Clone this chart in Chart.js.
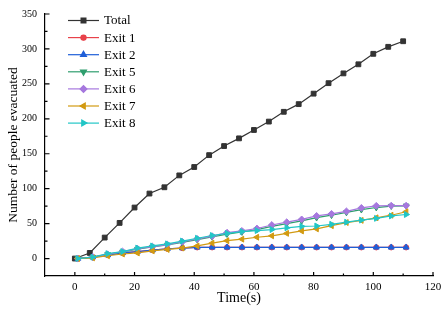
<!DOCTYPE html>
<html>
<head>
<meta charset="utf-8">
<script src="https://cdn.jsdelivr.net/npm/chart.js@4/dist/chart.umd.js"></script>
<style>
  html, body { margin: 0; padding: 0; background: #fff; }
  canvas { display: block; }
</style>
</head>
<body>
<canvas id="evacChart" width="447" height="315"></canvas>
<script>
// time stamps (s)
var totalTimes = [0, 5, 10, 15, 20, 25, 30, 35, 40, 45, 50, 55, 60, 65, 70, 75, 80, 85, 90, 95, 100, 105, 110];
var exitTimes = [1, 6, 11, 16, 21, 26, 31, 36, 41, 46, 51, 56, 61, 66, 71, 76, 81, 86, 91, 96, 101, 106, 111];

// number of people evacuated
var total = [0, 8, 30, 51, 73, 93, 102, 119, 131, 148, 161, 172, 184, 196, 210, 221, 236, 251, 265, 278, 293, 303, 311];
var exit1 = [0, 2, 5, 8, 10, 12, 14, 15, 16, 16, 16, 16, 16, 16, 16, 16, 16, 16, 16, 16, 16, 16, 16];
var exit2 = [0, 2, 5, 8, 10, 12, 14, 15, 16, 16, 16, 16, 16, 16, 16, 16, 16, 16, 16, 16, 16, 16, 16];
var exit5 = [0, 2, 6, 9.5, 13.5, 16.5, 19.5, 23, 27, 31, 35, 38, 41.5, 46, 50, 54, 58.5, 62, 66, 70, 73, 75, 75.5];
var exit6 = [0, 2, 6, 10, 14, 17, 20, 24, 28, 32, 37, 39.5, 43, 48, 52, 56, 61, 64, 67.5, 72.5, 75.5, 75.7, 75.7];
var exit7 = [0, 1, 4, 6.5, 8, 11, 13, 15, 18, 22, 25.5, 27.7, 30.5, 32.5, 36, 39.5, 42.5, 47, 51.5, 54.6, 58.3, 62, 67];
var exit8 = [0, 2, 7, 10, 15, 18, 21, 25, 29, 33, 36, 38.6, 40, 41.5, 44, 46, 46.6, 49, 52, 55, 57.5, 61, 63];

var xTicks = [0, 20, 40, 60, 80, 100, 120];
var yTicks = [0, 50, 100, 150, 200, 250, 300, 350];
var xMinor = [10, 30, 50, 70, 90, 110];
var yMinor = [25, 75, 125, 175, 225, 275, 325];

var serif = '"Liberation Serif", "Times New Roman", serif';

function pts(xs, ys) {
    return ys.map(function (v, i) { return { x: xs[i], y: v }; });
}

function series(label, xs, ys, color, style, rot, order) {
    return {
        label: label,
        data: pts(xs, ys),
        borderColor: color,
        backgroundColor: color,
        borderWidth: 1.2,
        pointStyle: style,
        pointRotation: rot,
        pointRadius: style === 'circle' ? 2.6 : 3.4,
        pointBorderWidth: 1,
        tension: 0,
        order: order
    };
}

// inward major/minor ticks drawn from the chart's own scales
var innerTicks = {
    id: 'innerTicks',
    afterDraw: function (chart) {
        var ctx = chart.ctx, xs = chart.scales.x, ys = chart.scales.y;
        var area = chart.chartArea;
        ctx.save();
        ctx.strokeStyle = '#000';
        ctx.lineWidth = 1.2;
        ctx.beginPath();
        xTicks.forEach(function (v) { var p = xs.getPixelForValue(v); ctx.moveTo(p, area.bottom); ctx.lineTo(p, area.bottom - 4); });
        xMinor.forEach(function (v) { var p = xs.getPixelForValue(v); ctx.moveTo(p, area.bottom); ctx.lineTo(p, area.bottom - 2.5); });
        yTicks.forEach(function (v) { var p = ys.getPixelForValue(v); ctx.moveTo(area.left, p); ctx.lineTo(area.left + 4.5, p); });
        yMinor.forEach(function (v) { var p = ys.getPixelForValue(v); ctx.moveTo(area.left, p); ctx.lineTo(area.left + 2.5, p); });
        ctx.stroke();
        ctx.restore();
    }
};

// legend drawn inside the plot, line + marker per entry
var innerLegend = {
    id: 'innerLegend',
    afterDraw: function (chart) {
        var ctx = chart.ctx;
        var x0 = 68, x1 = 99, y0 = 20.5, step = 17.1;
        ctx.save();
        ctx.font = '13px ' + serif;
        ctx.textBaseline = 'middle';
        ctx.fillStyle = '#000';
        chart.data.datasets.forEach(function (ds, i) {
            var y = y0 + i * step;
            ctx.strokeStyle = ds.borderColor;
            ctx.lineWidth = 1.2;
            ctx.beginPath();
            ctx.moveTo(x0, y);
            ctx.lineTo(x1, y);
            ctx.stroke();
            ctx.fillStyle = ds.backgroundColor;
            Chart.helpers.drawPoint(ctx, {
                pointStyle: ds.pointStyle,
                rotation: ds.pointRotation,
                radius: ds.pointRadius,
                borderWidth: 1
            }, (x0 + x1) / 2, y);
            ctx.fill();
            ctx.fillStyle = '#000';
            ctx.fillText(ds.label, 104, y + 0.5);
        });
        ctx.restore();
    }
};

var ctx = document.getElementById('evacChart').getContext('2d');
var evacChart = new Chart(ctx, {
    type: 'line',
    data: {
        datasets: [
            series('Total', totalTimes, total, '#333333', 'rect', 0, 7),
            series('Exit 1', exitTimes, exit1, '#e8424a', 'circle', 0, 6),
            series('Exit 2', exitTimes, exit2, '#1f5fd8', 'triangle', 0, 5),
            series('Exit 5', exitTimes, exit5, '#2f9e6e', 'triangle', 180, 4),
            series('Exit 6', exitTimes, exit6, '#a678de', 'rectRot', 0, 3),
            series('Exit 7', exitTimes, exit7, '#d29a12', 'triangle', -90, 2),
            series('Exit 8', exitTimes, exit8, '#22c6c6', 'triangle', 90, 1)
        ]
    },
    options: {
        responsive: false,
        devicePixelRatio: 1,
        animation: false,
        layout: { padding: { left: 0, right: 14, top: 10, bottom: 0 } },
        plugins: {
            legend: { display: false },
            tooltip: { enabled: false }
        },
        scales: {
            x: {
                type: 'linear',
                min: -10,
                max: 120,
                afterBuildTicks: function (s) { s.ticks = xTicks.map(function (v) { return { value: v }; }); },
                afterFit: function (s) { s.height = 39; },
                grid: { display: false, drawTicks: false },
                border: { display: true, color: '#000', width: 1.2 },
                ticks: { color: '#000', font: { family: serif, size: 11 }, padding: 5, maxRotation: 0, autoSkip: false },
                title: { display: true, text: 'Time(s)', color: '#000', font: { family: serif, size: 14 }, padding: { top: 0, bottom: 8.6 } }
            },
            y: {
                min: -25,
                max: 350,
                afterBuildTicks: function (s) { s.ticks = yTicks.map(function (v) { return { value: v }; }); },
                afterFit: function (s) { s.width = 45; },
                grid: { display: false, drawTicks: false },
                border: { display: true, color: '#000', width: 1.2 },
                ticks: { color: '#000', font: { family: serif, size: 10 }, padding: 8 },
                title: { display: true, text: 'Number of people evacuated', color: '#000', font: { family: serif, size: 13.5 }, padding: { top: 5, bottom: 0 } }
            }
        }
    },
    plugins: [innerTicks, innerLegend]
});
</script>
</body>
</html>
